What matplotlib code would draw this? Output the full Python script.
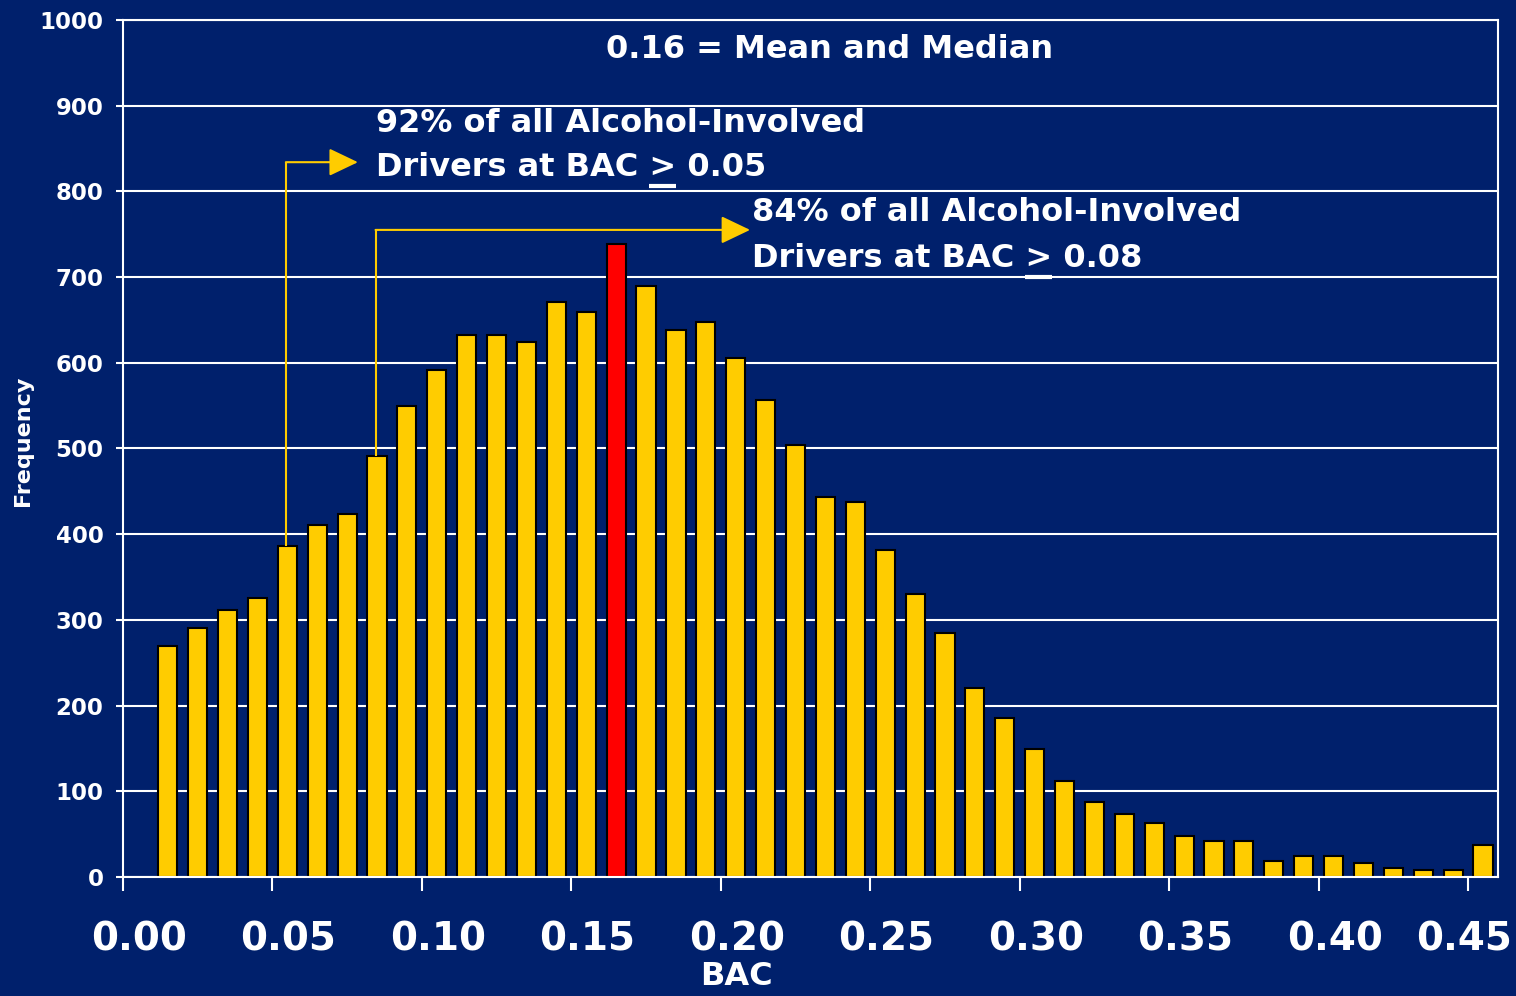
import matplotlib
matplotlib.use('Agg')
import matplotlib.pyplot as plt
from matplotlib.transforms import ScaledTranslation

# BAC bins (0.01 wide) and number of alcohol-involved drivers in each
bac = [0.01, 0.02, 0.03, 0.04, 0.05, 0.06, 0.07, 0.08, 0.09, 0.10,
       0.11, 0.12, 0.13, 0.14, 0.15, 0.16, 0.17, 0.18, 0.19, 0.20,
       0.21, 0.22, 0.23, 0.24, 0.25, 0.26, 0.27, 0.28, 0.29, 0.30,
       0.31, 0.32, 0.33, 0.34, 0.35, 0.36, 0.37, 0.38, 0.39, 0.40,
       0.41, 0.42, 0.43, 0.44, 0.45]
freq = [269, 290, 312, 325, 386, 411, 424, 491, 550, 592,
        632, 632, 624, 671, 659, 738, 690, 638, 648, 605,
        557, 504, 443, 437, 382, 330, 285, 221, 186, 149,
        112, 88, 74, 63, 48, 42, 42, 19, 24, 24,
        16, 11, 8, 8, 37]
mean_bac = 0.16
cut_low = 0.05
cut_high = 0.08

x_ticks = [0.00, 0.05, 0.10, 0.15, 0.20, 0.25, 0.30, 0.35, 0.40, 0.45]
x_labels = ['0.00', '0.05', '0.10', '0.15', '0.20', '0.25', '0.30', '0.35', '0.40', '0.45']
y_ticks = [0, 100, 200, 300, 400, 500, 600, 700, 800, 900, 1000]

navy = '#00206C'
gold = '#FFCC00'
red = '#FF0000'

fig = plt.figure(figsize=(15.16, 9.96), dpi=100, facecolor=navy)
ax = fig.add_axes([0.0811, 0.1195, 0.907, 0.8605], facecolor=navy)

centers = [b + 0.005 for b in bac]
colors = [red if abs(b - mean_bac) < 1e-9 else gold for b in bac]
ax.bar(centers, freq, width=0.0064, color=colors, edgecolor='black', linewidth=1.5, zorder=2)

ax.set_xlim(0, 0.46)
ax.set_ylim(0, 1000)
ax.set_axisbelow(True)
ax.yaxis.grid(True, color='white', lw=1.5)

for s in ax.spines.values():
    s.set_color('white')
    s.set_linewidth(1.5)

ax.set_yticks(y_ticks)
ax.tick_params(axis='y', colors='white', length=5, width=1.5, pad=9, labelsize=16.5)
for lab in ax.get_yticklabels():
    lab.set_fontweight('bold')

ax.set_xticks(x_ticks)
ax.set_xticklabels(x_labels, fontsize=28, fontweight='bold')
ax.tick_params(axis='x', colors='white', length=10, width=1.5, pad=21)
# labels sit a bit right of their ticks, the last one pulled in at the edge
xlabs = ax.get_xticklabels()
for lab in xlabs[:-1]:
    lab.set_transform(lab.get_transform() + ScaledTranslation(0.16, 0, fig.dpi_scale_trans))
xlabs[-1].set_transform(xlabs[-1].get_transform() + ScaledTranslation(-0.04, 0, fig.dpi_scale_trans))

ax.set_ylabel('Frequency', color='white', fontsize=16, fontweight='bold')
ax.yaxis.set_label_coords(-0.0655, 0.509)
ax.set_xlabel('BAC', color='white', fontsize=23, fontweight='bold', va='baseline')
ax.xaxis.set_label_coords(0.4465, -0.1265)

note_kw = dict(color='white', fontsize=23, fontweight='bold', va='baseline', zorder=4)

ax.text(0.2365, 956, '0.16 = Mean and Median', ha='center', **note_kw)

# callout text, ">" gets an underline to read as "greater or equal"
def callout(x, y1, y2, line1, prefix, value):
    ax.text(x, y1, line1, ha='left', **note_kw)
    t = ax.text(x, y2, prefix + '> ' + value, ha='left', **note_kw)
    r = fig.canvas.get_renderer()
    tmp_a = ax.text(x, y2, prefix + '>', ha='left', **note_kw)
    tmp_b = ax.text(x, y2, '>', ha='left', **note_kw)
    ea = tmp_a.get_window_extent(r)
    eb = tmp_b.get_window_extent(r)
    tmp_a.remove()
    tmp_b.remove()
    inv = ax.transData.inverted()
    xa = inv.transform((ea.x1 - eb.width, 0))[0]
    xb = inv.transform((ea.x1, 0))[0]
    ax.plot([xa, xb], [y2 - 12, y2 - 12], color='white', lw=3, solid_capstyle='butt', zorder=4)
    return t

callout(0.0846, 869, 818, '92% of all Alcohol-Involved', 'Drivers at BAC ', '0.05')
callout(0.2103, 765, 712, '84% of all Alcohol-Involved', 'Drivers at BAC ', '0.08')

# elbow arrows from the cut-off bars to the callouts
arrow_style = '-|>,head_length=0.9,head_width=0.43'
for cut, y_turn, x_tip in [(cut_low, 834, 0.0786), (cut_high, 755, 0.2098)]:
    i = bac.index(cut)
    xc = centers[i] - 0.0005
    ax.plot([xc, xc], [freq[i], y_turn], color=gold, lw=1.5, solid_capstyle='butt', zorder=3)
    ax.annotate('', xy=(x_tip, y_turn), xytext=(xc, y_turn),
                arrowprops=dict(arrowstyle=arrow_style, mutation_scale=20, color=gold,
                                lw=1.5, shrinkA=0, shrinkB=0), zorder=3)

fig.savefig('out.png', dpi=100, facecolor=navy)
